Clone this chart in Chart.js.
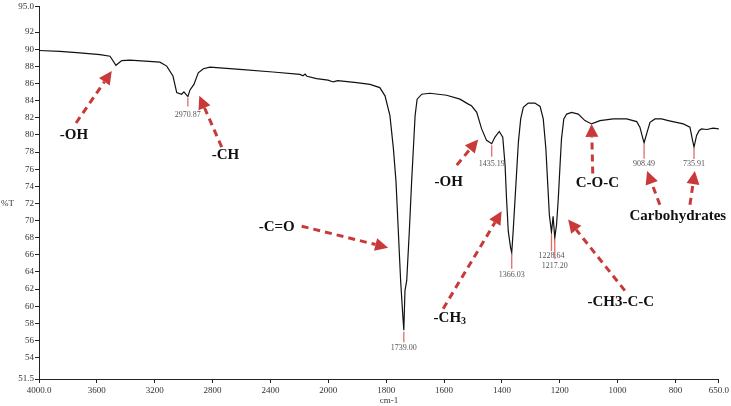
<!DOCTYPE html>
<html><head><meta charset="utf-8">
<script src="https://cdn.jsdelivr.net/npm/chart.js@4/dist/chart.umd.min.js"></script>
<style>html,body{margin:0;padding:0;background:#fff;}canvas{display:block}</style>
</head><body>
<canvas id="c" width="731" height="406"></canvas>
<script>
// ---- data ----
const wavenumbers = [4000, 3855, 3717, 3578, 3509, 3468, 3428, 3371, 3164, 3117, 3074, 3048, 3014, 2998, 2970.87, 2956, 2929, 2899, 2864, 2818, 2611, 2383, 2196, 2175, 2161, 2148, 2081, 2002, 1983, 1967, 1902, 1856, 1822, 1804, 1787, 1775, 1766, 1758, 1750, 1743, 1739, 1735, 1729, 1720, 1712, 1706, 1700, 1693, 1677, 1649, 1591, 1545, 1516, 1505, 1487, 1470, 1453, 1435.19, 1424, 1409, 1397, 1389, 1384, 1378, 1370, 1366.03, 1361, 1351, 1343, 1335, 1326, 1309, 1286, 1268, 1257, 1248, 1242, 1236, 1228.64, 1223, 1217.20, 1211, 1205, 1199, 1194, 1186, 1176, 1159, 1136, 1113, 1090, 1061, 1015, 969, 934, 923, 911, 908.49, 898, 888, 871, 848, 825, 773, 750, 741, 735.91, 727, 718, 710, 692, 670, 650];
const transmittance = [89.85, 89.76, 89.57, 89.37, 89.18, 88.12, 88.68, 88.72, 88.49, 88.03, 86.87, 84.94, 84.75, 85.02, 84.47, 85.25, 85.90, 87.25, 87.72, 87.91, 87.64, 87.34, 87.06, 86.91, 87.10, 86.85, 86.56, 86.39, 86.18, 86.33, 86.10, 85.90, 85.52, 84.56, 82.25, 78.39, 74.54, 68.76, 62.98, 59.16, 57.2, 61.82, 62.98, 68.76, 74.54, 78.39, 82.25, 84.17, 84.75, 84.86, 84.63, 84.17, 83.59, 83.40, 82.63, 80.70, 79.36, 78.97, 79.74, 80.40, 79.74, 76.47, 72.61, 68.76, 66.83, 66.25, 68.76, 74.54, 79.16, 81.86, 83.21, 83.71, 83.71, 83.32, 81.86, 78.39, 74.54, 70.69, 68.64, 70.49, 67.98, 69.53, 72.61, 76.47, 79.54, 81.86, 82.43, 82.63, 82.43, 81.67, 81.28, 81.67, 81.86, 81.86, 81.55, 80.90, 79.36, 79.08, 80.32, 81.47, 81.86, 81.86, 81.67, 81.28, 80.90, 79.36, 78.58, 79.94, 80.51, 80.70, 80.63, 80.78, 80.70];
const xTickValues = [4000, 3600, 3200, 2800, 2400, 2000, 1800, 1600, 1400, 1200, 1000, 800, 650];
const yTickValues = [51.5, 54, 56, 58, 60, 62, 64, 66, 68, 70, 72, 74, 76, 78, 80, 82, 84, 86, 88, 90, 92, 95];
const peakWavenumbers = [2970.87, 1739.00, 1435.19, 1366.03, 1228.64, 1217.20, 908.49, 735.91];
const peakLabels = ['2970.87', '1739.00', '1435.19', '1366.03', '1228.64', '1217.20', '908.49', '735.91'];
const bandNames = ['-OH', '-CH', '-C=O', '-OH', '-CH3', '-CH3-C-C', 'C-O-C', 'Carbohydrates'];

// ---- layout of annotations (in axis units) ----
const peakLineLen = [10, 12, 13, 16, 19, 21, 16, 12];
const peakTextOff = [18, 18, 20, 22, 24, 28, 21, 17];
const bandTextAt = [[3758, 79.97], [2711, 77.62], [2357, 69.22], [1584, 74.54], [1580, 58.66], [989, 60.47], [1070, 74.34], [792, 70.49]];
const bandArrows = [
  [[3744, 81.39, 3497, 87.45]],
  [[2737, 78.58, 2892, 84.56]],
  [[2184, 69.34, 1793, 66.83]],
  [[1556, 76.47, 1482, 79.47]],
  [[1603, 59.71, 1401, 71.07]],
  [[975, 61.82, 1171, 70.11]],
  [[1086, 75.50, 1090, 81.28]],
  [[854, 71.84, 898, 75.77], [750, 71.84, 733, 75.77]]
];

const SERIF = '"Liberation Serif", "DejaVu Serif", serif';
const BREAK = 2000;

class SplitScale extends Chart.LinearScale {
  buildTicks() { return xTickValues.map(v => ({ value: v })); }
  _p(v) {
    const hi = this.max, lo = this.min;
    const total = (hi - BREAK) / 2 + (BREAK - lo);
    const p = v >= BREAK ? (hi - v) / 2 : (hi - BREAK) / 2 + (BREAK - v);
    return p / total;
  }
  getPixelForValue(v) { return this.left + (this.right - this.left) * this._p(v); }
  getValueForPixel(px) {
    const hi = this.max, lo = this.min;
    const total = (hi - BREAK) / 2 + (BREAK - lo);
    const p = (px - this.left) / (this.right - this.left) * total;
    const first = (hi - BREAK) / 2;
    return p <= first ? hi - 2 * p : BREAK - (p - first);
  }
}
SplitScale.id = 'split';
SplitScale.defaults = Chart.LinearScale.defaults;
Chart.register(SplitScale);

const annot = {
  id: 'annot',
  afterDatasetsDraw(chart) {
    const ctx = chart.ctx, xs = chart.scales.x, ys = chart.scales.y;
    const X = v => xs.getPixelForValue(v), Y = v => ys.getPixelForValue(v);
    ctx.save();
    // peak markers
    peakWavenumbers.forEach((w, i) => {
      const idx = wavenumbers.indexOf(w);
      const px = X(w), py = Y(transmittance[idx]);
      ctx.strokeStyle = '#e36a6a';
      ctx.lineWidth = 1.3;
      ctx.beginPath(); ctx.moveTo(px, py + 1.5); ctx.lineTo(px, py + peakLineLen[i]); ctx.stroke();
      ctx.fillStyle = '#555';
      ctx.font = '8px ' + SERIF;
      ctx.textAlign = 'center'; ctx.textBaseline = 'middle';
      ctx.fillText(peakLabels[i], px, py + peakTextOff[i]);
    });
    // arrows
    const red = '#c9393a';
    bandArrows.forEach(list => list.forEach(a => {
      const x0 = X(a[0]), y0 = Y(a[1]), x1 = X(a[2]), y1 = Y(a[3]);
      const ang = Math.atan2(y1 - y0, x1 - x0);
      const head = 13, hw = 6.5;
      const bx = x1 - head * Math.cos(ang), by = y1 - head * Math.sin(ang);
      ctx.strokeStyle = red; ctx.lineWidth = 3; ctx.setLineDash([7, 5]);
      ctx.beginPath(); ctx.moveTo(x0, y0); ctx.lineTo(bx, by); ctx.stroke();
      ctx.setLineDash([]);
      ctx.fillStyle = red;
      ctx.beginPath();
      ctx.moveTo(x1, y1);
      ctx.lineTo(bx + hw * Math.sin(ang), by - hw * Math.cos(ang));
      ctx.lineTo(bx - hw * Math.sin(ang), by + hw * Math.cos(ang));
      ctx.closePath(); ctx.fill();
    }));
    // band labels
    ctx.fillStyle = '#111';
    ctx.textBaseline = 'middle';
    bandNames.forEach((t, i) => {
      const cx = X(bandTextAt[i][0]), cy = Y(bandTextAt[i][1]);
      const big = 'bold 15px ' + SERIF, small = 'bold 10px ' + SERIF;
      if (t === '-CH3') {
        ctx.font = big; const w1 = ctx.measureText('-CH').width;
        ctx.font = small; const w2 = ctx.measureText('3').width;
        const sx = cx - (w1 + w2) / 2;
        ctx.textAlign = 'left';
        ctx.font = big; ctx.fillText('-CH', sx, cy);
        ctx.font = small; ctx.fillText('3', sx + w1, cy + 4);
      } else {
        ctx.font = big; ctx.textAlign = 'center';
        ctx.fillText(t, cx, cy);
      }
    });
    // axis titles
    ctx.fillStyle = '#333';
    ctx.font = '9px ' + SERIF;
    ctx.textAlign = 'left';
    ctx.fillText('%T', 1, Y(72));
    ctx.textAlign = 'center';
    ctx.fillText('cm-1', X(1790), chart.height - 5);
    ctx.restore();
  }
};

new Chart(document.getElementById('c'), {
  type: 'line',
  data: {
    datasets: [{
      data: wavenumbers.map((w, i) => ({ x: w, y: transmittance[i] })),
      borderColor: '#111',
      borderWidth: 1.2,
      pointRadius: 0,
      tension: 0,
      fill: false
    }]
  },
  options: {
    responsive: false,
    animation: false,
    devicePixelRatio: 1,
    layout: { autoPadding: false, padding: { top: 3, right: 12, left: 0, bottom: 0 } },
    plugins: { legend: { display: false }, tooltip: { enabled: false } },
    scales: {
      x: {
        type: 'split', min: 650, max: 4000, position: 'bottom',
        grid: { display: true, drawOnChartArea: false, drawTicks: true, tickLength: 4, color: '#222' },
        border: { display: true, color: '#222', width: 1 },
        ticks: {
          autoSkip: false, maxRotation: 0, padding: 2, color: '#333',
          font: { family: SERIF, size: 9 },
          callback: v => (v === 4000 || v === 650) ? v.toFixed(1) : String(v)
        },
        afterFit: s => { s.height = 27; }
      },
      y: {
        type: 'linear', min: 51.5, max: 95,
        afterBuildTicks: s => { s.ticks = yTickValues.map(v => ({ value: v })); },
        grid: { display: true, drawOnChartArea: false, drawTicks: true, tickLength: 4, color: '#222' },
        border: { display: true, color: '#222', width: 1 },
        ticks: {
          padding: 1, color: '#333',
          font: { family: SERIF, size: 9 },
          callback: v => (v === 95 || v === 51.5) ? v.toFixed(1) : String(v)
        },
        afterFit: s => { s.width = 39; }
      }
    }
  },
  plugins: [annot]
});
</script>
</body></html>
